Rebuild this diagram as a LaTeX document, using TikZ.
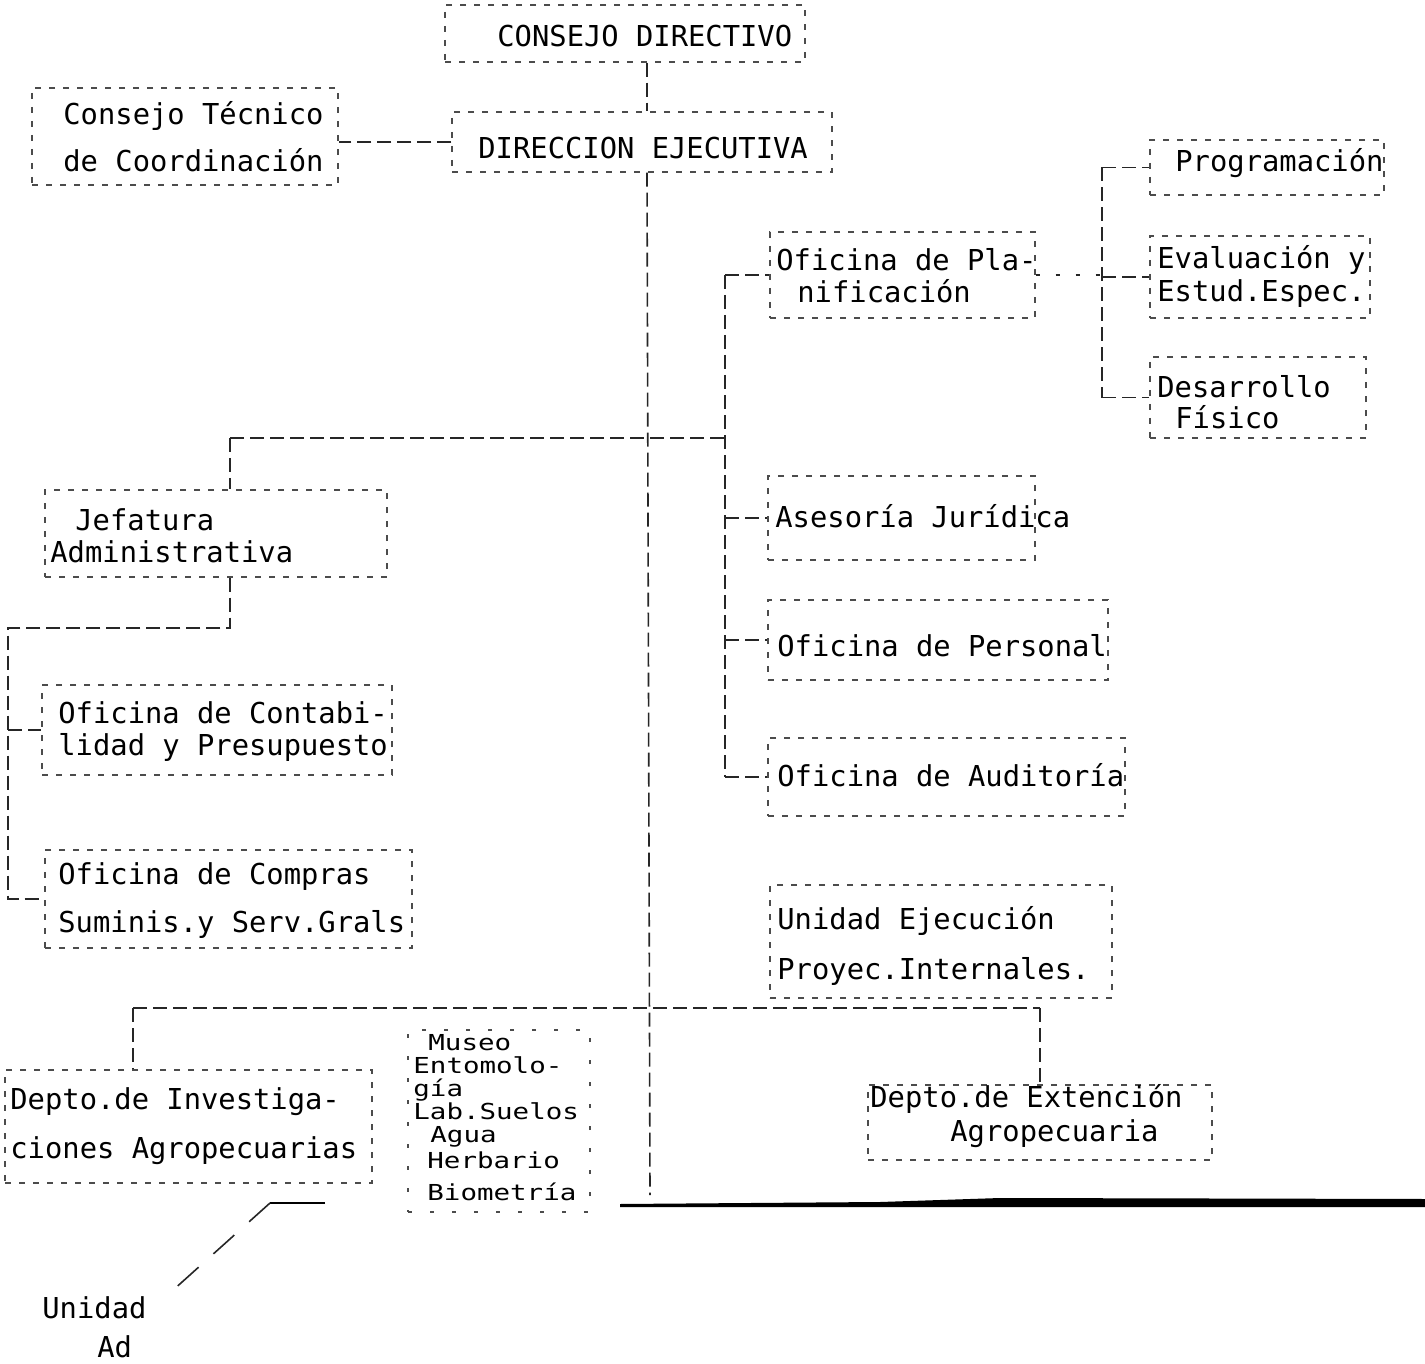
\documentclass[tikz,border=0pt]{standalone}
\usepackage{fontspec}
\usetikzlibrary{fit,calc}
\newfontfamily\maquina{DejaVu Sans Mono}
\newfontfamily\maquinaw{DejaVu Sans Mono}[FakeStretch=1.25]
\tikzset{>=stealth,
  caja/.style={draw=black!70, line width=0.6pt, dash pattern=on 3pt off 4pt, inner sep=0pt},
  enlace/.style={draw=black!85, line width=0.8pt, dash pattern=on 7pt off 3pt},
  txt/.style={anchor=base west, inner sep=0pt, font=\maquina\fontsize{14.4}{16}\selectfont},
  txtp/.style={anchor=base west, inner sep=0pt, font=\maquinaw\fontsize{11}{12}\selectfont}}

\begin{document}
\begin{tikzpicture}[x=0.5pt,y=-0.5pt]
  \useasboundingbox (0,0) rectangle (1425,1364);
  % cajas
  \node[caja, fit={(445,5) (805,62)}] (cdir) {};
  \node[caja, fit={(452,112) (832,172)}] (dirx) {};
  \node[caja, fit={(32,88) (338,185)}] (ctec) {};
  \node[caja, fit={(770,232) (1035,318)}] (plan) {};
  \node[caja, fit={(1150,140) (1384,195)}] (prog) {};
  \node[caja, fit={(1150,236) (1370,318)}] (eval) {};
  \node[caja, fit={(1150,357) (1366,438)}] (desa) {};
  \node[caja, fit={(45,490) (387,577)}] (jef) {};
  \node[caja, fit={(42,685) (392,775)}] (cont) {};
  \node[caja, fit={(45,850) (412,948)}] (comp) {};
  \node[caja, fit={(768,476) (1035,560)}] (ases) {};
  \node[caja, fit={(768,600) (1108,680)}] (pers) {};
  \node[caja, fit={(768,738) (1125,816)}] (audi) {};
  \node[caja, fit={(770,885) (1112,998)}] (ueje) {};
  \node[caja, fit={(5,1070) (372,1183)}] (inves) {};
  \node[caja, dash pattern=on 2pt off 9pt, fit={(408,1030) (590,1212)}] (museo) {};
  \node[caja, fit={(868,1085) (1212,1160)}] (exten) {};
  % textos
  \node[txt] (cdir1) at (497,47) {CONSEJO DIRECTIVO};
  \node[txt] (dirx1) at (478,159) {DIRECCION EJECUTIVA};
  \node[txt] (ctec1) at (63,125) {Consejo Técnico};
  \node[txt] (ctec2) at (63,172) {de Coordinación};
  \node[txt] (plan1) at (776,271) {Oficina de Pla-};
  \node[txt] (plan2) at (797,303) {nificación};
  \node[txt] (prog1) at (1175,172) {Programación};
  \node[txt] (eval1) at (1157,269) {Evaluación y};
  \node[txt] (eval2) at (1157,302) {Estud.Espec.};
  \node[txt] (desa1) at (1157,397) {Desarrollo};
  \node[txt] (desa2) at (1175,429) {Físico};
  \node[txt] (jef1) at (75,530) {Jefatura};
  \node[txt] (jef2) at (50,562) {Administrativa};
  \node[txt] (cont1) at (58,723) {Oficina de Contabi-};
  \node[txt] (cont2) at (58,755) {lidad y Presupuesto};
  \node[txt] (comp1) at (58,884) {Oficina de Compras};
  \node[txt] (comp2) at (58,932) {Suminis.y Serv.Grals};
  \node[txt] (ases1) at (775,527) {Asesoría Jurídica};
  \node[txt] (pers1) at (777,656) {Oficina de Personal};
  \node[txt] (audi1) at (777,786) {Oficina de Auditoría};
  \node[txt] (ueje1) at (777,929) {Unidad Ejecución};
  \node[txt] (ueje2) at (777,979) {Proyec.Internales.};
  \node[txt] (inves1) at (10,1109) {Depto.de Investiga-};
  \node[txt] (inves2) at (10,1158) {ciones Agropecuarias};
  \node[txtp] (museo1) at (428,1050) {Museo};
  \node[txtp] (museo2) at (413,1073) {Entomolo-};
  \node[txtp] (museo3) at (413,1096) {gía};
  \node[txtp] (museo4) at (413,1119) {Lab.Suelos};
  \node[txtp] (museo5) at (430,1142) {Agua};
  \node[txtp] (museo6) at (427,1168) {Herbario};
  \node[txtp] (museo7) at (427,1200) {Biometría};
  \node[txt] (exten1) at (870,1107) {Depto.de Extención};
  \node[txt] (exten2) at (950,1141) {Agropecuaria};
  \node[txt] (unid1) at (42,1318) {Unidad};
  \node[txt] (unid2) at (97,1357) {Ad};
  % lineas
  \coordinate (sp) at (647,438);
  \coordinate (spf) at (650,1195);
  \coordinate (ja) at (230,438);
  \coordinate (dr) at (725,438);
  \coordinate (ja1) at (230,628);
  \coordinate (ja2) at (8,628);
  \coordinate (pl) at (1102,163);
  \coordinate (bus0) at (133,1008);
  \coordinate (bus1) at (1040,1008);
  \coordinate (inv0) at (325,1203);
  \coordinate (inv1) at (270,1203);
  \draw[enlace] (cdir.south -| sp) -- (dirx.north -| sp);
  \draw[enlace] (dirx.south -| sp) -- (spf);
  \draw[enlace] (dirx.west) -- (dirx.west -| ctec.east);
  \draw[enlace] (ja) -- (dr);
  \draw[enlace] (ja) -- (ja |- jef.north);
  \draw[enlace] (ja |- jef.south) -- (ja1) -- (ja2) -- (ja2 |- comp.west) -- (comp.west);
  \draw[enlace] (ja2 |- cont.west) -- (cont.west);
  \draw[enlace] (plan.west -| dr) -- (audi.west -| dr);
  \foreach \n in {plan,ases,pers,audi}
    \draw[enlace] (\n.west -| dr) -- (\n.west);
  \draw[enlace] (prog.west -| pl) -- (desa.west -| pl);
  \draw[enlace, dash pattern=on 2pt off 8pt] (plan.east) -- (plan.east -| pl);
  \foreach \n in {prog,eval,desa}
    \draw[enlace] (\n.west -| pl) -- (\n.west);
  \draw[enlace] (bus0) -- (bus1);
  \draw[enlace] (bus0) -- (bus0 |- inves.north);
  \draw[enlace] (bus1) -- (exten.north);
  \draw[line width=1.2pt] (inv0) -- (inv1);
  \draw[enlace, dash pattern=on 14pt off 10pt] (inv1) -- ([xshift=10pt]unid1.north east);
  \fill (620,1204) -- (880,1202) -- (1000,1198) -- (1425,1199) -- (1425,1207) -- (620,1207) -- cycle;
\end{tikzpicture}
\end{document}
